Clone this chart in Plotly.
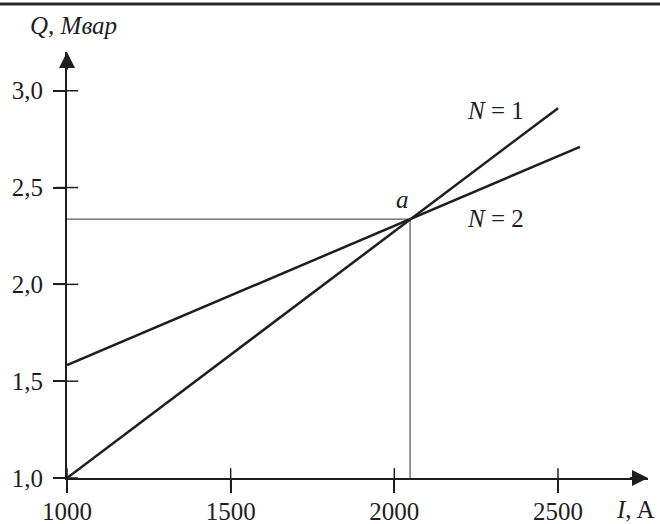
import plotly.graph_objects as go

current_a = [1000, 2048, 2500]
q_n1 = [1.0, 2.337, 2.91]
current_b = [1000, 2048, 2567]
q_n2 = [1.583, 2.337, 2.71]
point_a = (2048, 2.337)

x_ticks = [1000, 1500, 2000, 2500]
y_ticks = [1.0, 1.5, 2.0, 2.5, 3.0]

X_MAX = 2775
Y_MAX = 3.2
INK = "#1e1e1e"
FONT = dict(family="Liberation Serif", size=25, color=INK)

fig = go.Figure()

# thin guide lines to point a
fig.add_trace(go.Scatter(
    x=[x_ticks[0], point_a[0], point_a[0]],
    y=[point_a[1], point_a[1], y_ticks[0]],
    mode="lines", line=dict(color="#333", width=1), hoverinfo="skip",
))
fig.add_trace(go.Scatter(x=current_a, y=q_n1, mode="lines", name="N = 1",
                         line=dict(color=INK, width=2.5), cliponaxis=False))
fig.add_trace(go.Scatter(x=current_b, y=q_n2, mode="lines", name="N = 2",
                         line=dict(color=INK, width=2.5), cliponaxis=False))

# ticks crossing the axes (upper/right part; axis ticks draw the outer part)
fig.add_trace(go.Scatter(x=x_ticks, y=[y_ticks[0]] * len(x_ticks), mode="markers",
                         marker=dict(symbol="line-ns", size=14, line=dict(color=INK, width=1.5)),
                         cliponaxis=False, hoverinfo="skip"))
fig.add_trace(go.Scatter(x=[x_ticks[0]] * len(y_ticks), y=y_ticks, mode="markers",
                         marker=dict(symbol="line-ew", size=16, line=dict(color=INK, width=1.5)),
                         cliponaxis=False, hoverinfo="skip"))

annotations = [
    # axis arrows
    dict(x=X_MAX, y=y_ticks[0], ax=X_MAX - 60, ay=y_ticks[0], xref="x", yref="y",
         axref="x", ayref="y", showarrow=True, arrowhead=2, arrowsize=1.6,
         arrowwidth=2, arrowcolor=INK, text=""),
    dict(x=x_ticks[0], y=Y_MAX, ax=x_ticks[0], ay=Y_MAX - 0.1, xref="x", yref="y",
         axref="x", ayref="y", showarrow=True, arrowhead=2, arrowsize=1.6,
         arrowwidth=2, arrowcolor=INK, text=""),
    dict(x=2308, y=2.90, xref="x", yref="y", text="<i>N</i> = 1", showarrow=False, font=FONT),
    dict(x=2308, y=2.34, xref="x", yref="y", text="<i>N</i> = 2", showarrow=False, font=FONT),
    dict(x=2024, y=2.436, xref="x", yref="y", text="<i>a</i>", showarrow=False, font=FONT),
    dict(x=0.012, y=1.063, xref="paper", yref="paper", text="<i>Q, Мвар</i>",
         xanchor="center", yanchor="middle", showarrow=False, font=FONT),
    dict(x=0.979, y=-0.075, xref="paper", yref="paper", text="<i>I</i>, A",
         xanchor="center", yanchor="middle", showarrow=False, font=FONT),
]

fig.update_layout(
    width=660, height=524,
    margin=dict(l=67, r=12, t=52, b=46, autoexpand=False),
    paper_bgcolor="white", plot_bgcolor="white",
    showlegend=False,
    separators=", ",
    font=FONT,
    annotations=annotations,
    shapes=[dict(type="line", xref="paper", yref="paper",
                 x0=-67 / 581, x1=1 + 12 / 581, y0=1 + 48 / 426, y1=1 + 48 / 426,
                 line=dict(color="#2a2a2a", width=3))],
)
fig.update_xaxes(range=[x_ticks[0], X_MAX], tickvals=x_ticks, tickformat="d",
                 showline=True, linecolor=INK, linewidth=2, ticks="outside",
                 ticklen=13, tickwidth=1.5, tickcolor=INK, showgrid=False,
                 zeroline=False, tickfont=FONT, automargin=False,
                 ticklabelstandoff=-3)
fig.update_yaxes(range=[y_ticks[0], Y_MAX], tickvals=y_ticks, tickformat=".1f",
                 showline=True, linecolor=INK, linewidth=2, ticks="outside",
                 ticklen=12, tickwidth=1.5, tickcolor=INK, showgrid=False,
                 zeroline=False, tickfont=FONT, automargin=False,
                 ticklabelstandoff=5)

fig.write_html("out.html", config={"displayModeBar": False},
               post_script="document.body.style.margin='0';")
